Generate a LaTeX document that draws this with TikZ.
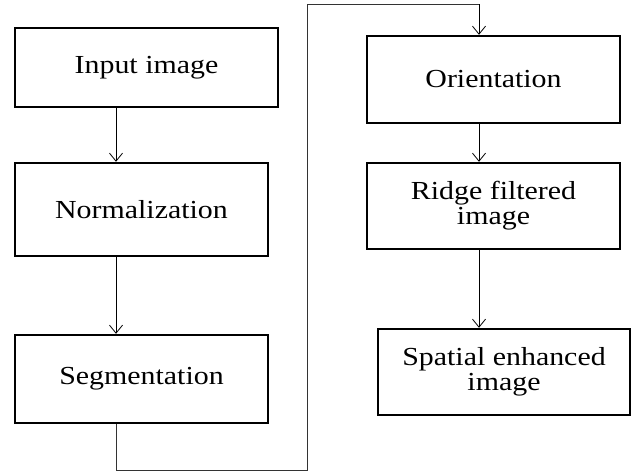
\documentclass[tikz,border=0pt]{standalone}
\usepackage{fontspec}
\setmainfont[FakeStretch=1.15]{Liberation Serif}
\usetikzlibrary{arrows.meta}
\begin{document}
\begin{tikzpicture}[x=1pt,y=-1pt,
  box/.style={draw,line width=2.4pt,inner sep=0pt,font=\fontsize{26}{25}\selectfont,align=center},
  conn/.style={line width=0.8pt,-{Straight Barb[length=8pt,width=13pt,line width=0.8pt]}},
  plain/.style={line width=0.8pt,draw=black!80}]
\useasboundingbox (0,0) rectangle (634,472);
\node[box,minimum width=263pt,minimum height=79pt] (in) at (146.5,67.5) {Input image};
\node[box,minimum width=253pt,minimum height=93pt] (norm) at (141.5,209.5) {Normalization};
\node[box,minimum width=253pt,minimum height=88pt] (seg) at (141.5,379) {Segmentation};
\node[box,minimum width=253pt,minimum height=87pt] (ori) at (493.5,79.5) {Orientation};
\node[box,minimum width=253pt,minimum height=86pt] (ridge) at (493.5,206) {Ridge filtered\\image};
\node[box,minimum width=252pt,minimum height=86pt] (spat) at (504,372) {Spatial enhanced\\image};
\coordinate (a1) at (116,470);
\coordinate (a2) at (307,470);
\coordinate (a3) at (307,4);
\coordinate (a4) at (479,4);
\draw[conn] (in.south -| 116,0) -- (norm.north -| 116,0);
\draw[conn] (norm.south -| 116,0) -- (seg.north -| 116,0);
\draw[plain] (seg.south -| 116,0) -- (a1) -- (a2) -- (a3) -- (a4);
\draw[conn] (a4) -- (ori.north -| 479,0);
\draw[conn] (ori.south -| 479,0) -- (ridge.north -| 479,0);
\draw[conn] (ridge.south -| 479,0) -- (spat.north -| 479,0);
\end{tikzpicture}
\end{document}
